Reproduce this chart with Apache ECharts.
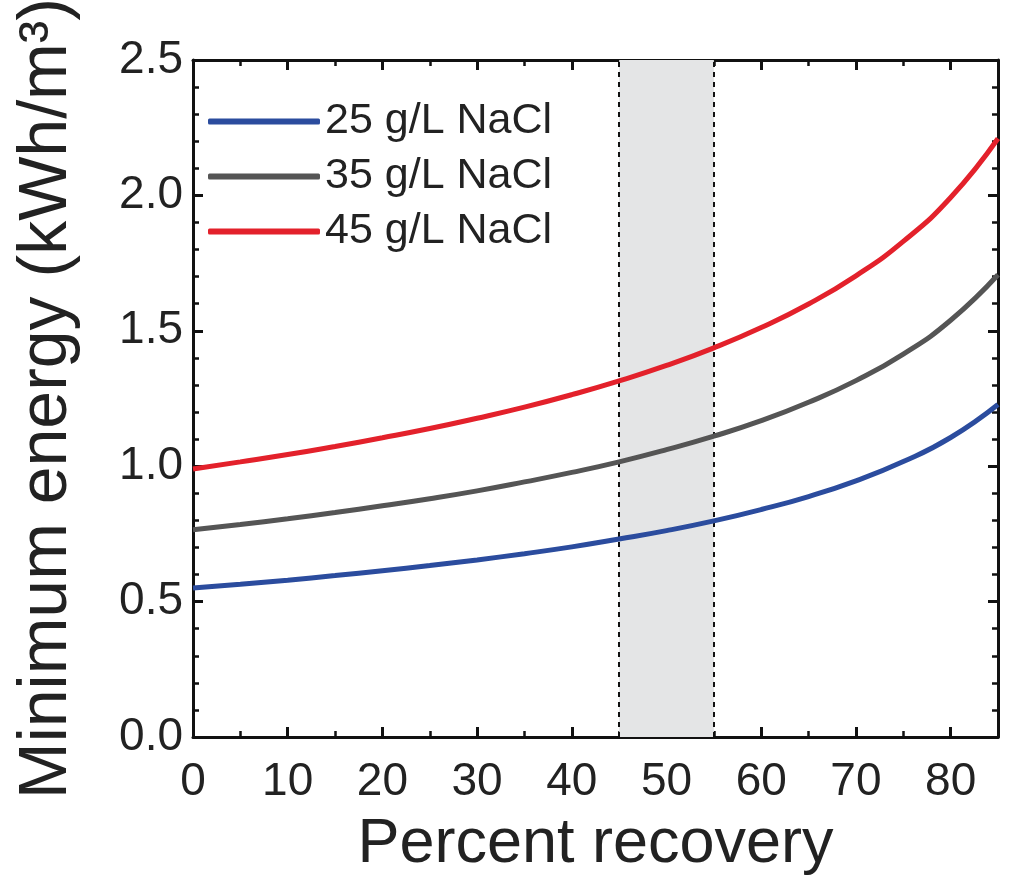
<!DOCTYPE html>
<html>
<head>
<meta charset="utf-8">
<script src="https://cdn.jsdelivr.net/npm/echarts@6/dist/echarts.min.js"></script>
<style>
  html, body { margin: 0; padding: 0; background: #fff; }
  #chart { width: 1018px; height: 896px; }
</style>
</head>
<body>
<div id="chart"></div>
<script>
// percent recovery (x) and minimum energy in kWh/m3
var recovery = [0, 5, 10, 15, 20, 25, 30, 35, 40, 45, 50, 55, 60, 65, 70, 75, 80, 85]
var nacl25 = [0.550, 0.564, 0.579, 0.596, 0.614, 0.633, 0.654, 0.677, 0.702, 0.731, 0.762, 0.798, 0.840, 0.888, 0.946, 1.017, 1.106, 1.228]
var nacl35 = [0.765, 0.785, 0.806, 0.829, 0.854, 0.880, 0.909, 0.942, 0.977, 1.016, 1.061, 1.111, 1.168, 1.236, 1.316, 1.414, 1.539, 1.707]
var nacl45 = [0.990, 1.016, 1.043, 1.073, 1.105, 1.139, 1.177, 1.218, 1.264, 1.315, 1.372, 1.437, 1.512, 1.599, 1.703, 1.830, 1.992, 2.210]
var seriesNames = ['25 g/L NaCl', '35 g/L NaCl', '45 g/L NaCl']
var seriesColors = ['#2b4c9e', '#555555', '#e3212b']
var band = [45, 55]

var fontFam = '"Liberation Sans", Arial, Helvetica, sans-serif'

function pairs (ys) {
  return recovery.map(function (x, i) { return [x, ys[i]] })
}

function frameAxis (extra) {
  var base = {
    axisLine: { show: true, onZero: false, lineStyle: { color: '#111', width: 3 } },
    axisTick: { show: true, inside: true, length: 10, lineStyle: { color: '#111', width: 3 } },
    minorTick: { show: true, length: 6, lineStyle: { color: '#111', width: 2.5 } },
    splitLine: { show: false },
    axisLabel: { show: false }
  }
  return Object.assign(base, extra)
}

var chart = echarts.init(document.getElementById('chart'))

var lineSeries = [nacl25, nacl35, nacl45].map(function (ys, i) {
  return {
    name: seriesNames[i],
    type: 'line',
    data: pairs(ys),
    smooth: true,
    symbol: 'none',
    z: 5,
    lineStyle: { color: seriesColors[i], width: 5 },
    itemStyle: { color: seriesColors[i] }
  }
})

chart.setOption({
  animation: false,
  grid: { left: 193, right: 20, top: 60, bottom: 159, containLabel: false, outerBoundsMode: 'none' },
  legend: {
    data: seriesNames,
    orient: 'vertical',
    left: 203,
    top: 95,
    itemGap: 12,
    itemWidth: 112,
    itemHeight: 6,
    icon: 'roundRect',
    textStyle: { fontFamily: fontFam, fontSize: 43, color: '#222' }
  },
  xAxis: [
    frameAxis({
      type: 'value', min: 0, max: 85, interval: 10,
      minorTick: { show: true, splitNumber: 2, length: 6, lineStyle: { color: '#111', width: 2.5 } },
      axisLabel: { show: true, margin: 22, fontFamily: fontFam, fontSize: 46, color: '#222' },
      name: 'Percent recovery',
      nameLocation: 'middle',
      nameGap: 76,
      nameTextStyle: { fontFamily: fontFam, fontSize: 63, color: '#222' }
    }),
    frameAxis({
      type: 'value', min: 0, max: 85, interval: 10, position: 'top',
      minorTick: { show: true, splitNumber: 2, length: 6, lineStyle: { color: '#111', width: 2.5 } }
    })
  ],
  yAxis: [
    frameAxis({
      type: 'value', min: 0, max: 2.5, interval: 0.5,
      minorTick: { show: true, splitNumber: 5, length: 6, lineStyle: { color: '#111', width: 2.5 } },
      axisLabel: {
        show: true, margin: 10, fontFamily: fontFam, fontSize: 46, color: '#222',
        formatter: function (v) { return v.toFixed(1) }
      },
      name: 'Minimum energy (kWh/m³)',
      nameLocation: 'middle',
      nameGap: 112,
      nameTextStyle: { fontFamily: fontFam, fontSize: 68, color: '#222' }
    }),
    frameAxis({
      type: 'value', min: 0, max: 2.5, interval: 0.5, position: 'right',
      minorTick: { show: true, splitNumber: 5, length: 6, lineStyle: { color: '#111', width: 2.5 } }
    })
  ],
  series: [{
    type: 'line',
    data: [],
    z: 1,
    markArea: {
      silent: true,
      itemStyle: { color: '#e4e5e6' },
      data: [[{ xAxis: band[0] }, { xAxis: band[1] }]]
    },
    markLine: {
      silent: true,
      symbol: 'none',
      label: { show: false },
      lineStyle: { color: '#111', type: [5, 5], width: 2 },
      data: [{ xAxis: band[0] }, { xAxis: band[1] }]
    }
  }].concat(lineSeries)
})
</script>
</body>
</html>
